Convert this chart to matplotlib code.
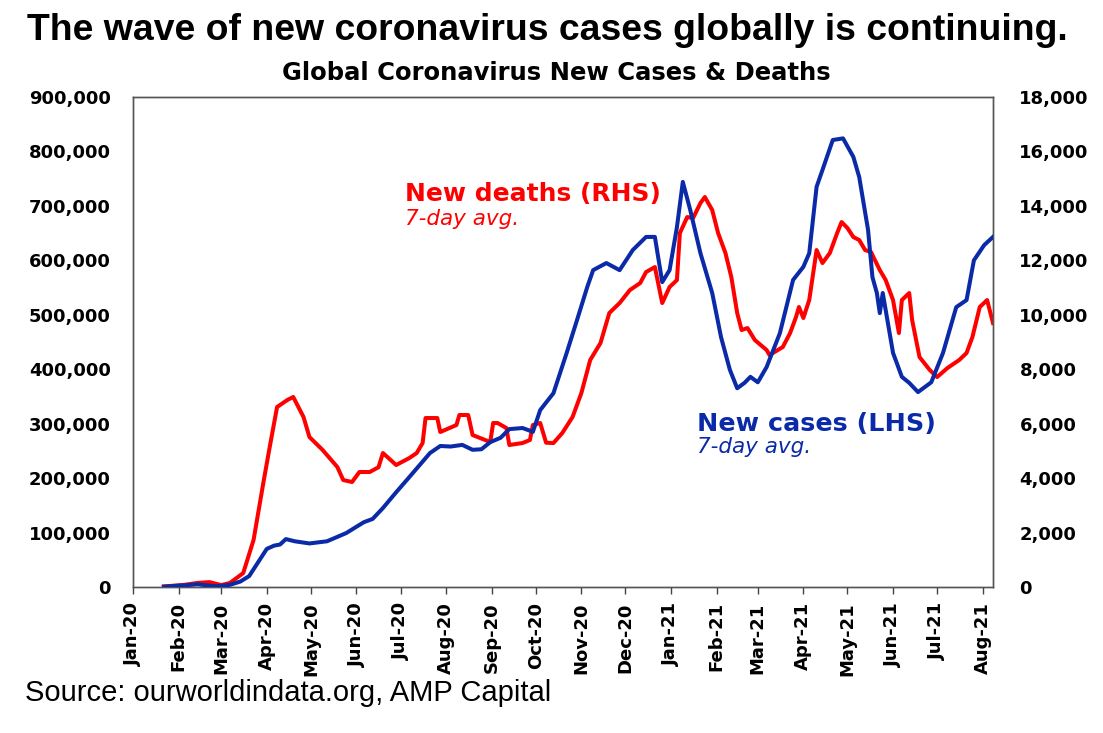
import matplotlib
matplotlib.use("Agg")
import matplotlib.pyplot as plt
import matplotlib.dates as mdates
from matplotlib.font_manager import FontProperties
import pandas as pd

# ---- data ----
start = pd.Timestamp("2020-01-01")

# New cases, 7-day avg (LHS): days since 2020-01-01, thousands
case_days = [21, 35, 44, 55, 60, 66, 73, 79, 85, 91, 96, 100, 104, 110, 120, 132, 145,
             157, 163, 170, 179, 188, 202, 209, 216, 224, 231, 237, 243, 250, 256, 265,
             272, 277, 286, 295, 302, 309, 313, 322, 331, 340, 349, 355, 360, 365, 370,
             374, 379, 386, 394, 400, 406, 411, 416, 420, 425, 431, 440, 449, 456, 460,
             465, 469, 476, 483, 490, 494, 500, 503, 506, 508, 510, 517, 523, 528, 534,
             543, 551, 560, 567, 572, 579, 585]
cases_k = [0.6, 3, 5, 1.5, 2, 4, 10, 20, 45, 70, 76, 78, 88, 84, 80, 84, 99,
           119, 125, 145, 174, 202, 246, 259, 258, 261, 252, 253, 266, 274, 290, 292,
           285, 325, 356, 430, 490, 551, 582, 595, 582, 619, 643, 643, 560, 582, 661,
           744, 693, 613, 540, 459, 399, 365, 375, 386, 376, 404, 466, 564, 588, 613,
           735, 766, 821, 824, 790, 753, 656, 569, 540, 503, 540, 430, 386, 375, 358,
           376, 430, 514, 527, 600, 628, 643]

# New deaths, 7-day avg (RHS): days since 2020-01-01, deaths per day
death_days = [21, 35, 44, 52, 60, 66, 75, 82, 89, 93, 98, 105, 109, 116, 120, 129, 139,
              143, 149, 154, 161, 167, 170, 179, 188, 193, 197, 199, 207, 209, 220, 222,
              228, 231, 243, 245, 248, 254, 256, 265, 270, 272, 277, 281, 286, 292, 299,
              305, 311, 318, 324, 331, 338, 345, 349, 355, 360, 365, 370, 372, 377, 381,
              386, 389, 394, 398, 403, 407, 411, 414, 418, 423, 431, 433, 442, 447, 451,
              453, 456, 460, 465, 469, 474, 479, 482, 486, 490, 494, 498, 502, 508, 512,
              517, 521, 523, 528, 530, 535, 542, 547, 554, 562, 567, 571, 576, 581, 585]
deaths = [20, 80, 150, 180, 70, 150, 514, 1726, 3930, 5142, 6611, 6870, 6980, 6244, 5510,
          5032, 4408, 3930, 3857, 4224, 4224, 4400, 4922, 4481, 4738, 4922, 5289, 6207,
          6207, 5693, 5950, 6318, 6318, 5583, 5326, 6024, 6024, 5840, 5216, 5289, 5400,
          5950, 6024, 5300, 5289, 5656, 6244, 7126, 8338, 8962, 10064, 10431, 10908,
          11166, 11570, 11753, 10431, 11019, 11276, 13003, 13590, 13554, 14105, 14326,
          13848, 13003, 12268, 11386, 10064, 9440, 9513, 9072, 8705, 8521, 8815, 9330,
          9918, 10285, 9881, 10541, 12378, 11900, 12268, 13003, 13407, 13186, 12856,
          12746, 12378, 12305, 11643, 11276, 10541, 9330, 10541, 10798, 9807, 8448, 7970,
          7713, 8044, 8338, 8595, 9183, 10285, 10541, 9697]

title = "The wave of new coronavirus cases globally is continuing."
subtitle = "Global Coronavirus New Cases & Deaths"
source = "Source: ourworldindata.org, AMP Capital"

# ---- figure ----
W, H = 1103, 733
fig = plt.figure(figsize=(W / 100, H / 100), dpi=100)
fig.patch.set_facecolor("white")

ax = fig.add_axes([133 / W, 1 - 587 / H, 860 / W, 490 / H])
ax2 = ax.twinx()

BLUE = "#0A2AA8"
RED = "#FF0000"

case_dates = [start + pd.Timedelta(days=d) for d in case_days]
death_dates = [start + pd.Timedelta(days=d) for d in death_days]
cases = [v * 1000 for v in cases_k]

ax.plot(case_dates, cases, color=BLUE, lw=2.9, solid_joinstyle="round", zorder=3)
ax2.plot(death_dates, deaths, color=RED, lw=2.9, solid_joinstyle="round", zorder=2)
ax.set_zorder(ax2.get_zorder() + 1)
ax.patch.set_visible(False)

ax.set_ylim(0, 900000)
ax2.set_ylim(0, 18000)
ax.set_xlim(pd.Timestamp("2020-01-01"), pd.Timestamp("2021-08-08"))

ax.set_yticks(range(0, 900001, 100000))
ax.set_yticklabels([f"{v:,}" for v in range(0, 900001, 100000)])
ax2.set_yticks(range(0, 18001, 2000))
ax2.set_yticklabels([f"{v:,}" for v in range(0, 18001, 2000)])

ax.xaxis.set_major_locator(mdates.MonthLocator())
ax.xaxis.set_major_formatter(mdates.DateFormatter("%b-%y"))

tick_fp = FontProperties(family="DejaVu Sans", weight="bold", size=13)
for lab in ax.get_yticklabels() + ax2.get_yticklabels() + ax.get_xticklabels():
    lab.set_fontproperties(tick_fp)
for lab in ax.get_xticklabels():
    lab.set_rotation(90)

ax.tick_params(axis="y", length=0, pad=16)
ax2.tick_params(axis="y", length=0, pad=19)
ax.tick_params(axis="x", length=5, width=1, pad=6, color="#444444")

for a in (ax, ax2):
    for s in a.spines.values():
        s.set_color("#555555")
        s.set_linewidth(1)

# ---- texts ----
fig.text(27 / W, 1 - 30 / H, title, family="Liberation Sans", weight="bold",
         size=26.9, ha="left", va="center")
fig.text(556 / W, 1 - 73 / H, subtitle, family="DejaVu Sans", weight="bold",
         size=17.5, ha="center", va="center")
fig.text(25 / W, 1 - 693 / H, source, family="Liberation Sans",
         size=21, ha="left", va="center")

fig.text(405 / W, 1 - 194 / H, "New deaths (RHS)", family="DejaVu Sans",
         weight="bold", size=18, color=RED, ha="left", va="center")
fig.text(405 / W, 1 - 219 / H, "7-day avg.", family="DejaVu Sans",
         style="oblique", size=15.5, color=RED, ha="left", va="center")
fig.text(697 / W, 1 - 424 / H, "New cases (LHS)", family="DejaVu Sans",
         weight="bold", size=18.3, color=BLUE, ha="left", va="center")
fig.text(697 / W, 1 - 447 / H, "7-day avg.", family="DejaVu Sans",
         style="oblique", size=15.5, color=BLUE, ha="left", va="center")

fig.savefig("out.png", dpi=100)
